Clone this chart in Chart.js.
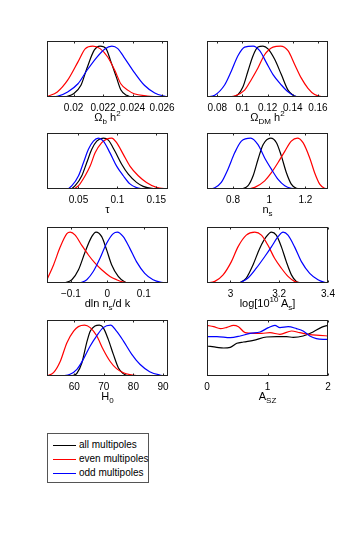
<!DOCTYPE html>
<html>
<head>
<meta charset="utf-8">
<script src="https://cdn.jsdelivr.net/npm/chart.js@4.4.0/dist/chart.umd.min.js"></script>
<style>
body { margin: 0; background: #fff; width: 362px; height: 540px; position: relative; overflow: hidden; font-family: "Liberation Sans", Arial, sans-serif; }
canvas { position: absolute; }
.xlabel { position: absolute; font-size: 11px; line-height: 12px; white-space: nowrap; transform: translateX(-50%); color: #000; }
.xlabel sub, .xlabel sup { font-size: 8px; line-height: 0; }
#legend { position: absolute; left: 47px; top: 433px; width: 100px; height: 48px; border: 1px solid #555; background: #fff; }
.row { position: absolute; left: 0; width: 100px; height: 12px; font-size: 10px; line-height: 12px; }
.row .sw { position: absolute; left: 5px; top: 6px; width: 23px; height: 1px; }
.row .txt { position: absolute; left: 31px; top: 0; white-space: nowrap; }
</style>
</head>
<body>
<div id="legend"></div>
<script>
// series: all / even / odd multipoles
const seriesNames = ["all multipoles", "even multipoles", "odd multipoles"];
const seriesColors = ["#000000", "#ff0000", "#0000ff"];

// Omega_b h^2
const ombRange = [0.0182, 0.0264];
const ombTicks = [0.02, 0.022, 0.024, 0.026];
const ombTickLabels = ["0.02", "0.022", "0.024", "0.026"];
const ombAll = [[0.01945,0],[0.0200,0.065],[0.0205,0.23],[0.0209,0.56],[0.0214,0.92],[0.0218,1.00],[0.0222,0.95],[0.0225,0.72],[0.0229,0.39],[0.0232,0.144],[0.0236,0.033],[0.0239,0]];
const ombEven = [[0.0182,0.01],[0.0189,0.10],[0.0196,0.33],[0.0203,0.69],[0.0208,0.95],[0.0213,1.00],[0.0218,0.95],[0.0223,0.79],[0.0228,0.52],[0.0232,0.26],[0.0237,0.13],[0.0241,0.065],[0.0250,0.02],[0.0257,0]];
const ombOdd = [[0.0185,0],[0.0189,0.013],[0.0196,0.10],[0.0203,0.26],[0.0209,0.52],[0.0216,0.79],[0.0221,0.94],[0.0226,1.00],[0.0230,0.95],[0.0234,0.79],[0.0241,0.49],[0.0248,0.23],[0.0255,0.08],[0.0262,0.013],[0.0264,0]];

// Omega_DM h^2
const omdmRange = [0.0718, 0.168];
const omdmTicks = [0.08, 0.1, 0.12, 0.14, 0.16];
const omdmTickLabels = ["0.08", "0.1", "0.12", "0.14", "0.16"];
const omdmAll = [[0.0911,0],[0.0964,0.047],[0.1004,0.20],[0.1044,0.51],[0.1084,0.81],[0.1123,0.98],[0.1163,1.00],[0.1203,0.945],[0.1256,0.74],[0.1309,0.44],[0.1362,0.135],[0.1402,0.034],[0.1441,0]];
const omdmEven = [[0.0858,0],[0.0938,0.02],[0.1017,0.135],[0.1070,0.34],[0.1123,0.57],[0.1176,0.83],[0.1243,0.98],[0.1303,1.00],[0.1362,0.91],[0.1415,0.64],[0.1468,0.37],[0.1521,0.17],[0.1574,0.047],[0.1627,0.007],[0.1680,0]];
const omdmOdd = [[0.0718,0],[0.0779,0.034],[0.0858,0.236],[0.0911,0.506],[0.0964,0.81],[0.1017,0.98],[0.1084,1.00],[0.1137,0.91],[0.1190,0.675],[0.1243,0.44],[0.1309,0.236],[0.1362,0.10],[0.1415,0.02],[0.1468,0]];

// tau
const tauRange = [0.0096, 0.165];
const tauTicks = [0.05, 0.1, 0.15];
const tauTickLabels = ["0.05", "0.1", "0.15"];
const tauAll = [[0.0096,0],[0.0394,0],[0.0458,0.065],[0.0543,0.26],[0.0607,0.52],[0.0671,0.78],[0.0735,0.94],[0.0820,1.00],[0.0884,0.96],[0.0969,0.74],[0.1055,0.485],[0.1140,0.29],[0.1246,0.13],[0.1331,0.052],[0.1459,0.006],[0.1544,0]];
const tauEven = [[0.0096,0],[0.0416,0],[0.0501,0.065],[0.0586,0.26],[0.0650,0.45],[0.0714,0.71],[0.0799,0.91],[0.0863,0.98],[0.0927,1.00],[0.0990,0.91],[0.1076,0.68],[0.1161,0.45],[0.1268,0.26],[0.1374,0.13],[0.1502,0.032],[0.1650,0]];
const tauOdd = [[0.0096,0],[0.0352,0],[0.0416,0.065],[0.0501,0.26],[0.0565,0.52],[0.0628,0.78],[0.0692,0.94],[0.0756,1.00],[0.0820,0.94],[0.0905,0.71],[0.0990,0.45],[0.1076,0.26],[0.1161,0.10],[0.1246,0.026],[0.1331,0]];

// n_s
const nsRange = [0.656, 1.325];
const nsTicks = [0.8, 1, 1.2];
const nsTickLabels = ["0.8", "1", "1.2"];
const nsAll = [[0.846,0],[0.883,0.065],[0.911,0.26],[0.938,0.58],[0.966,0.87],[1.008,1.00],[1.040,0.91],[1.067,0.65],[1.095,0.32],[1.122,0.097],[1.150,0.013],[1.178,0]];
const nsEven = [[0.883,0],[0.920,0.032],[0.975,0.16],[1.012,0.32],[1.049,0.52],[1.086,0.74],[1.122,0.94],[1.156,1.00],[1.187,0.91],[1.224,0.61],[1.251,0.32],[1.279,0.097],[1.307,0.013],[1.325,0]];
const nsOdd = [[0.656,0],[0.699,0.026],[0.735,0.13],[0.772,0.39],[0.809,0.71],[0.846,0.94],[0.898,1.00],[0.938,0.87],[0.975,0.61],[1.012,0.39],[1.049,0.19],[1.086,0.065],[1.122,0.013],[1.159,0]];

// dln n_s / dk
const runRange = [-0.1655, 0.1664];
const runTicks = [-0.1, 0, 0.1];
const runTickLabels = ["\u22120.1", "0", "0.1"];
const runAll = [[-0.1200,0],[-0.0973,0.065],[-0.0791,0.26],[-0.0610,0.61],[-0.0428,0.91],[-0.0310,1.00],[-0.0155,0.91],[-0.0019,0.65],[0.0117,0.36],[0.0299,0.13],[0.0481,0.019],[0.0617,0]];
const runEven = [[-0.1655,0.065],[-0.1473,0.36],[-0.1291,0.71],[-0.1110,0.97],[-0.1019,1.00],[-0.0882,0.94],[-0.0701,0.74],[-0.0519,0.55],[-0.0337,0.39],[-0.0155,0.26],[0.0072,0.13],[0.0254,0.065],[0.0436,0.019],[0.0617,0]];
const runOdd = [[-0.0746,0],[-0.0564,0.065],[-0.0382,0.23],[-0.0201,0.485],[-0.0019,0.78],[0.0163,0.97],[0.0272,1.00],[0.0436,0.91],[0.0617,0.68],[0.0799,0.42],[0.1026,0.19],[0.1254,0.065],[0.1481,0.013],[0.1663,0]];

// log[10^10 A_s]
const lnAsRange = [2.904, 3.40];
const lnAsTicks = [3, 3.2, 3.4];
const lnAsTickLabels = ["3", "3.2", "3.4"];
const lnAsAll = [[3.038,0],[3.065,0.097],[3.093,0.36],[3.120,0.68],[3.147,0.91],[3.168,1.00],[3.188,0.94],[3.209,0.71],[3.229,0.42],[3.250,0.16],[3.270,0.032],[3.291,0]];
const lnAsEven = [[2.904,0],[2.936,0.032],[2.970,0.16],[3.004,0.42],[3.031,0.71],[3.065,0.94],[3.100,1.00],[3.127,0.94],[3.154,0.74],[3.181,0.485],[3.209,0.29],[3.236,0.13],[3.263,0.032],[3.291,0]];
const lnAsOdd = [[3.038,0],[3.072,0.097],[3.106,0.29],[3.141,0.52],[3.168,0.71],[3.195,0.91],[3.216,1.00],[3.236,0.94],[3.263,0.71],[3.291,0.42],[3.325,0.19],[3.359,0.065],[3.386,0.013],[3.400,0]];

// H_0
const h0Range = [50.8, 91.7];
const h0Ticks = [60, 70, 80, 90];
const h0TickLabels = ["60", "70", "80", "90"];
const h0All = [[59.2,0],[60.9,0.052],[62.6,0.26],[64.2,0.65],[65.4,0.88],[67.0,0.98],[68.5,1.00],[69.8,0.95],[71.5,0.72],[73.2,0.43],[74.9,0.164],[76.6,0.046],[78.2,0]];
const h0Even = [[50.8,0],[53.0,0.065],[55.3,0.29],[57.5,0.65],[59.8,0.88],[61.4,0.97],[63.5,1.00],[65.4,0.95],[67.6,0.79],[69.8,0.52],[72.1,0.29],[74.3,0.144],[76.6,0.065],[78.8,0.026],[82.2,0]];
const h0Odd = [[55.8,0],[58.6,0.033],[60.9,0.13],[63.1,0.33],[65.4,0.59],[67.6,0.79],[69.8,0.95],[72.3,1.00],[74.3,0.88],[76.6,0.69],[79.4,0.43],[82.2,0.23],[85.5,0.085],[88.9,0.02],[91.7,0]];

// A_SZ
const aszRange = [0, 2];
const aszTicks = [0, 1, 2];
const aszTickLabels = ["0", "1", "2"];
const aszAll = [[0,0.589],[0.164,0.563],[0.274,0.55],[0.384,0.563],[0.493,0.642],[0.603,0.668],[0.767,0.70],[0.986,0.766],[1.151,0.773],[1.315,0.773],[1.425,0.76],[1.589,0.786],[1.753,0.864],[1.89,0.956],[2.0,0.995]];
const aszEven = [[0,0.995],[0.11,0.969],[0.219,0.93],[0.329,0.956],[0.438,0.995],[0.52,0.969],[0.63,0.851],[0.767,0.838],[0.904,0.838],[1.041,0.851],[1.205,0.819],[1.397,0.884],[1.534,0.851],[1.699,0.812],[1.863,0.799],[2.0,0.786]];
const aszOdd = [[0,0.773],[0.164,0.773],[0.384,0.753],[0.548,0.786],[0.712,0.838],[0.877,0.864],[1.014,0.95],[1.123,0.995],[1.205,0.95],[1.342,0.969],[1.479,0.93],[1.589,0.884],[1.699,0.786],[1.808,0.733],[1.918,0.72],[2.0,0.72]];

const xTitles = [
  "&Omega;<sub>b</sub> h<sup>2</sup>",
  "&Omega;<sub>DM</sub> h<sup>2</sup>",
  "&tau;",
  "n<sub>s</sub>",
  "dln n<sub>s</sub>/d k",
  "log[10<sup>10</sup> A<sub>s</sub>]",
  "H<sub>0</sub>",
  "A<sub>SZ</sub>"
];

// layout of the 4x2 grid (pixels)
const COL_LEFT = [47, 207];
const ROW_TOP = [41, 133, 227, 320];
const BOX_W = 121, BOX_H = 56;
const PADX = 20, PADT = 4, AXIS_H = 20;

const panels = [
  { range: ombRange, ticks: ombTicks, labels: ombTickLabels, series: [ombAll, ombEven, ombOdd] },
  { range: omdmRange, ticks: omdmTicks, labels: omdmTickLabels, series: [omdmAll, omdmEven, omdmOdd] },
  { range: tauRange, ticks: tauTicks, labels: tauTickLabels, series: [tauAll, tauEven, tauOdd] },
  { range: nsRange, ticks: nsTicks, labels: nsTickLabels, series: [nsAll, nsEven, nsOdd] },
  { range: runRange, ticks: runTicks, labels: runTickLabels, series: [runAll, runEven, runOdd] },
  { range: lnAsRange, ticks: lnAsTicks, labels: lnAsTickLabels, series: [lnAsAll, lnAsEven, lnAsOdd] },
  { range: h0Range, ticks: h0Ticks, labels: h0TickLabels, series: [h0All, h0Even, h0Odd] },
  { range: aszRange, ticks: aszTicks, labels: aszTickLabels, series: [aszAll, aszEven, aszOdd] }
];

// frame + inward tick marks, matlab style
const boxPlugin = {
  id: "box",
  afterDraw(chart) {
    const { ctx, chartArea: a } = chart;
    const xs = chart.scales.x;
    const l = Math.round(a.left) + 0.5, t = Math.round(a.top) + 0.5;
    const r = Math.round(a.right) - 0.5, b = Math.round(a.bottom) - 0.5;
    ctx.save();
    ctx.strokeStyle = "#222";
    ctx.lineWidth = 1;
    ctx.strokeRect(l, t, r - l, b - t);
    ctx.beginPath();
    xs.ticks.forEach(tk => {
      const px = Math.round(xs.getPixelForValue(tk.value)) + 0.5;
      ctx.moveTo(px, b); ctx.lineTo(px, b - 2);
      ctx.moveTo(px, t); ctx.lineTo(px, t + 2);
    });
    ctx.stroke();
    ctx.restore();
  }
};

panels.forEach((p, k) => {
  const left = COL_LEFT[k % 2], top = ROW_TOP[Math.floor(k / 2)];
  const cv = document.createElement("canvas");
  cv.width = BOX_W + 2 * PADX;
  cv.height = PADT + BOX_H + AXIS_H;
  cv.style.left = (left - PADX) + "px";
  cv.style.top = (top - PADT) + "px";
  document.body.appendChild(cv);

  new Chart(cv, {
    type: "line",
    data: {
      datasets: p.series.map((s, i) => ({
        label: seriesNames[i],
        data: s.map(([x, y]) => ({ x, y })),
        borderColor: seriesColors[i],
        borderWidth: 1.2,
        pointRadius: 0,
        fill: false,
        cubicInterpolationMode: "monotone",
        order: 2 - i
      }))
    },
    options: {
      responsive: false,
      animation: false,
      events: [],
      layout: { padding: { left: PADX, right: PADX, top: PADT, bottom: 0 } },
      plugins: { legend: { display: false }, tooltip: { enabled: false } },
      scales: {
        x: {
          type: "linear",
          min: p.range[0],
          max: p.range[1],
          bounds: "data",
          grid: { display: false, drawTicks: false },
          border: { display: false },
          afterBuildTicks: sc => { sc.ticks = p.ticks.map(v => ({ value: v })); },
          afterFit: sc => { sc.height = AXIS_H; },
          ticks: {
            autoSkip: false,
            maxRotation: 0,
            padding: 5,
            color: "#000",
            font: { family: "'Liberation Sans', Arial, sans-serif", size: 10 },
            callback: (v, i) => p.labels[i]
          }
        },
        y: { display: false, min: 0, max: 1.1 }
      }
    },
    plugins: [boxPlugin]
  });

  const lab = document.createElement("div");
  lab.className = "xlabel";
  lab.innerHTML = xTitles[k];
  lab.style.left = (left + BOX_W / 2) + "px";
  lab.style.top = (top + BOX_H + 14) + "px";
  document.body.appendChild(lab);
});

// legend
const legend = document.getElementById("legend");
const rowTops = [5, 18.5, 32.5];
seriesNames.forEach((name, i) => {
  const row = document.createElement("div");
  row.className = "row";
  row.style.top = rowTops[i] + "px";
  row.innerHTML = '<span class="sw" style="background:' + seriesColors[i] + '"></span><span class="txt">' + name + "</span>";
  legend.appendChild(row);
});
</script>
</body>
</html>
